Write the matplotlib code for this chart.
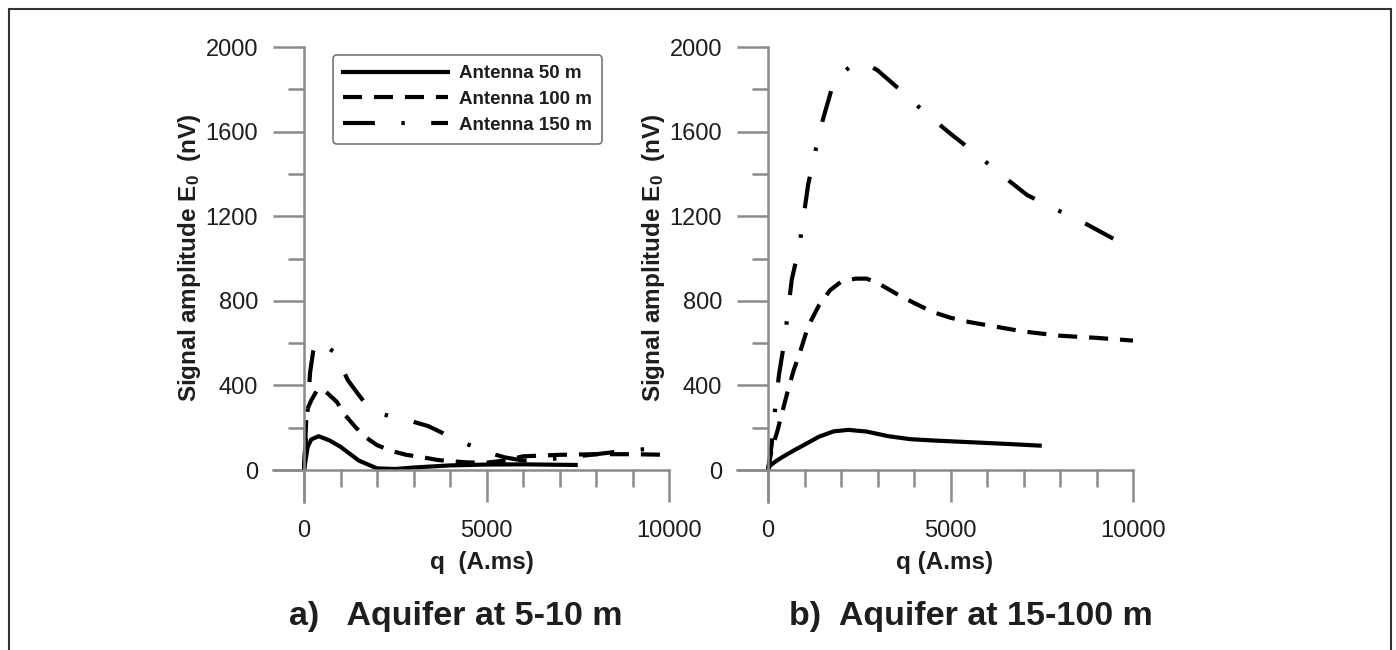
import matplotlib
matplotlib.use("Agg")
import matplotlib.pyplot as plt
from matplotlib.lines import Line2D
from matplotlib.patches import Rectangle
from matplotlib.ticker import MultipleLocator, FixedLocator

plt.rcParams['font.family'] = ['Liberation Sans', 'DejaVu Sans']
plt.rcParams['mathtext.fontset'] = 'custom'
plt.rcParams['mathtext.rm'] = 'Liberation Sans:bold'
plt.rcParams['mathtext.it'] = 'Liberation Sans:bold'
plt.rcParams['mathtext.bf'] = 'Liberation Sans:bold'
plt.rcParams['lines.scale_dashes'] = False

# ---------------- data ----------------
series_labels = ["Antenna 50 m", "Antenna 100 m", "Antenna 150 m"]

# a) Aquifer at 5-10 m
a_q50 = [0, 100, 200, 400, 700, 1000, 1500, 2000, 2500, 3000, 4000, 5000, 6000, 7000, 7500]
a_e50 = [0, 110, 145, 160, 140, 110, 45, 8, 5, 12, 22, 26, 27, 25, 24]

a_q100 = [0, 70, 200, 350, 450, 600, 900, 1100, 1400, 1650, 2000, 2400, 2800, 3200, 3650,
          4000, 4500, 5000, 5500, 6000, 7000, 8000, 9000, 10000]
a_e100 = [0, 280, 330, 375, 385, 370, 322, 265, 205, 160, 118, 90, 72, 62, 48,
          42, 36, 35, 45, 65, 72, 75, 75, 72]

a_q150 = [0, 80, 165, 250, 330, 420, 600, 850, 1200, 1500, 1760, 2200, 2550, 3000, 3400,
          4200, 5000, 5500, 6000, 7000, 8000, 9000, 9500, 10000]
a_e150 = [0, 230, 460, 560, 607, 612, 585, 555, 425, 355, 298, 262, 246, 228, 208,
          142, 85, 60, 45, 55, 75, 95, 100, 80]

# b) Aquifer at 15-100 m
b_q50 = [0, 50, 200, 400, 700, 1000, 1400, 1800, 2200, 2700, 3300, 3900, 4500, 5500, 6500, 7500]
b_e50 = [0, 20, 40, 62, 92, 120, 158, 183, 190, 182, 160, 146, 140, 132, 124, 115]

b_q100 = [0, 100, 250, 400, 550, 700, 900, 1100, 1400, 1700, 2000, 2400, 2700, 3000, 3500,
          4000, 4500, 5000, 5500, 6000, 7000, 8000, 9000, 10000]
b_e100 = [0, 100, 180, 280, 380, 470, 570, 680, 780, 850, 890, 905, 905, 885, 835,
          790, 748, 720, 700, 685, 655, 635, 625, 612]

b_q150 = [0, 100, 200, 300, 450, 650, 860, 1100, 1300, 1500, 1750, 2000, 2300, 2700, 3000,
          3600, 4300, 5000, 5700, 6400, 7100, 7800, 8700, 9500]
b_e150 = [0, 120, 300, 450, 610, 900, 1060, 1350, 1510, 1655, 1805, 1870, 1915, 1920, 1890,
          1800, 1690, 1590, 1495, 1395, 1300, 1240, 1165, 1090]

y_major = [0, 400, 800, 1200, 1600, 2000]
x_major = [0, 5000, 10000]
panel_titles = ["a)   Aquifer at 5-10 m", "b)  Aquifer at 15-100 m"]
x_labels = ["q  (A.ms)", "q (A.ms)"]
y_label = "Signal amplitude E$_{0}$  (nV)"

# ---------------- styles ----------------
LW = 3.0
styles = [
    dict(linestyle='-'),
    dict(linestyle=(0, (13.7, 8.6))),
    dict(linestyle=(0, (23, 19, 2.5, 19))),
]
SPINE = '#8a8a8a'
TXT = '#1e1e1e'

fig = plt.figure(figsize=(13.96, 6.5), dpi=100)
W, H = 1396, 650

def add_axes(x_left_px):
    return fig.add_axes([x_left_px / W, (H - 502) / H, 396 / W, 455 / H])

axes = [add_axes(273), add_axes(737)]
data = [
    [(a_q50, a_e50), (a_q100, a_e100), (a_q150, a_e150)],
    [(b_q50, b_e50), (b_q100, b_e100), (b_q150, b_e150)],
]

for i, ax in enumerate(axes):
    for (q, e), st in zip(data[i], styles):
        ax.plot(q, e, color='black', lw=LW, solid_capstyle='butt', dash_capstyle='butt', **st)
    ax.set_xlim(-850, 10000)
    ax.set_ylim(-151, 2000)
    for s in ['top', 'right']:
        ax.spines[s].set_visible(False)
    ax.spines['left'].set_position(('data', 0))
    ax.spines['bottom'].set_position(('data', 0))
    for s in ['left', 'bottom']:
        ax.spines[s].set_color(SPINE)
        ax.spines[s].set_linewidth(1.8)
    ax.yaxis.set_major_locator(FixedLocator(y_major))
    ax.yaxis.set_minor_locator(MultipleLocator(200))
    ax.xaxis.set_major_locator(FixedLocator(x_major))
    ax.xaxis.set_minor_locator(MultipleLocator(1000))
    ax.tick_params(axis='y', which='major', direction='out', length=22, width=1.8,
                   color=SPINE, labelsize=17, labelcolor=TXT, pad=11)
    ax.tick_params(axis='y', which='minor', direction='out', length=11.5, width=1.8, color=SPINE)
    ax.tick_params(axis='x', which='major', direction='out', length=23, width=1.8,
                   color=SPINE, labelsize=17, labelcolor=TXT, pad=13)
    ax.tick_params(axis='x', which='minor', direction='out', length=12, width=1.8, color=SPINE)
    ax.patch.set_visible(False)

    ax.set_xlabel(x_labels[i], fontsize=17.5, fontweight='bold', color=TXT)
    ax.xaxis.set_label_coords(0.527 if i == 0 else 0.523, -0.132)
    ax.xaxis.label.set_va('center')
    ax.set_ylabel(y_label, fontsize=17.5, fontweight='bold', color=TXT)
    ax.yaxis.set_label_coords(-0.2096, 0.538)
    ax.yaxis.label.set_va('center')

handles = [Line2D([], [], color='black', lw=LW, dash_capstyle='butt', **st) for st in styles]
leg = axes[0].legend(handles, series_labels, loc='upper left', bbox_to_anchor=(0.1515, 0.9824),
                     borderaxespad=0, frameon=True, fancybox=True, handlelength=5.6,
                     handletextpad=0.55, labelspacing=0.45, borderpad=0.55,
                     prop={'family': 'Liberation Sans', 'weight': 'bold', 'size': 13.5})
leg.get_frame().set_edgecolor('#555555')
leg.get_frame().set_linewidth(1.2)
for t in leg.get_texts():
    t.set_color(TXT)

fig.text(456 / W, (H - 625) / H, panel_titles[0], fontsize=24.5, fontweight='bold',
         ha='center', va='baseline', color=TXT)
fig.text(971 / W, (H - 625) / H, panel_titles[1], fontsize=24.5, fontweight='bold',
         ha='center', va='baseline', color=TXT)

fig.patches.append(Rectangle((8.5 / W, -0.05), (1391 - 8.5) / W, 1.05 - 9 / H,
                             transform=fig.transFigure, fill=False,
                             edgecolor='#333333', lw=1.5))

fig.savefig('out.png', dpi=100, facecolor='white')
